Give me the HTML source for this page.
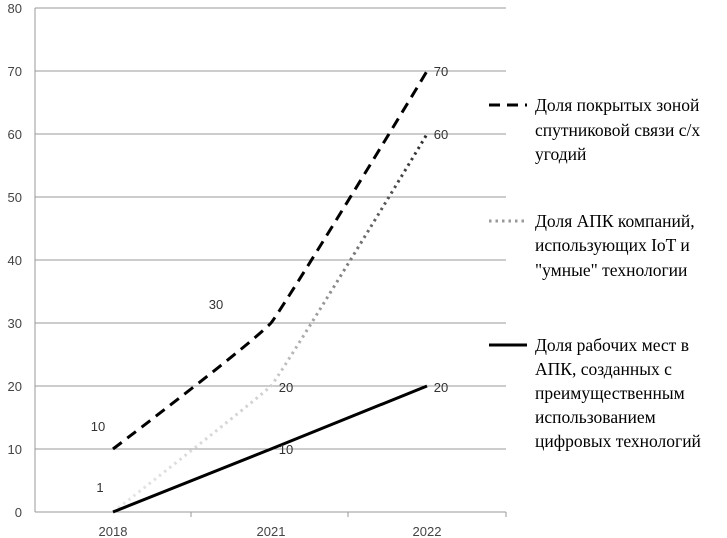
<!DOCTYPE html>
<html><head><meta charset="utf-8"><style>
html,body{margin:0;padding:0;background:#fff;}
svg{display:block;}
</style></head><body>
<svg width="727" height="538" xmlns="http://www.w3.org/2000/svg">
<defs>
<linearGradient id="g" x1="113" y1="0" x2="427" y2="0" gradientUnits="userSpaceOnUse">
<stop offset="0" stop-color="#e6e6e6"/><stop offset="0.5" stop-color="#cfcfcf"/><stop offset="1" stop-color="#2a2a2a"/>
</linearGradient>
</defs>
<g stroke="#999" stroke-width="1">
<line x1="35" y1="8" x2="506" y2="8"/>
<line x1="35" y1="71" x2="506" y2="71"/>
<line x1="35" y1="134" x2="506" y2="134"/>
<line x1="35" y1="197" x2="506" y2="197"/>
<line x1="35" y1="260" x2="506" y2="260"/>
<line x1="35" y1="323" x2="506" y2="323"/>
<line x1="35" y1="386" x2="506" y2="386"/>
<line x1="35" y1="449" x2="506" y2="449"/>
<line x1="35" y1="512" x2="506" y2="512"/>
<line x1="35" y1="8" x2="35" y2="512"/>
<line x1="191" y1="512" x2="191" y2="517"/>
<line x1="348" y1="512" x2="348" y2="517"/>
<line x1="506" y1="512" x2="506" y2="517"/>
</g>
<g font-family="Liberation Sans, sans-serif" font-size="13" fill="#444" text-anchor="end">
<text x="22" y="13">80</text><text x="22" y="76">70</text><text x="22" y="139">60</text>
<text x="22" y="202">50</text><text x="22" y="265">40</text><text x="22" y="328">30</text>
<text x="22" y="391">20</text><text x="22" y="454">10</text><text x="22" y="517">0</text>
</g>
<g font-family="Liberation Sans, sans-serif" font-size="13" fill="#444" text-anchor="middle">
<text x="113" y="536">2018</text><text x="271" y="536">2021</text><text x="427" y="536">2022</text>
</g>
<path d="M113,449 C130,436 250,345 271,323 C285,305 410,100 427,71" fill="none" stroke="#000" stroke-width="3" stroke-dasharray="11 7"/>
<path d="M113,512 C130,499 250,405 271,386 C285,368 410,163 427,134" fill="none" stroke="url(#g)" stroke-width="3" stroke-dasharray="2.5 4"/>
<path d="M113,512 L271,449 L427,386" fill="none" stroke="#000" stroke-width="3"/>
<g font-family="Liberation Sans, sans-serif" font-size="13" fill="#333" text-anchor="middle">
<text x="98" y="431">10</text><text x="100" y="492">1</text>
<text x="216" y="309">30</text><text x="286" y="392">20</text><text x="286" y="454">10</text>
<text x="441" y="76">70</text><text x="441" y="139">60</text><text x="441" y="392">20</text>
</g>
<line x1="489" y1="105" x2="527" y2="105" stroke="#000" stroke-width="3" stroke-dasharray="11 7"/>
<line x1="489" y1="221" x2="527" y2="221" stroke="#999" stroke-width="3" stroke-dasharray="2.5 4"/>
<line x1="489" y1="345" x2="527" y2="345" stroke="#000" stroke-width="3"/>
<g font-family="Liberation Serif, serif" font-size="17.5" fill="#000">
<text x="535" y="111">Доля покрытых зоной</text>
<text x="535" y="136">спутниковой связи с/х</text>
<text x="535" y="160">угодий</text>
<text x="535" y="227">Доля АПК компаний,</text>
<text x="535" y="251">использующих IoT и</text>
<text x="535" y="276">"умные" технологии</text>
<text x="535" y="351">Доля рабочих мест в</text>
<text x="535" y="375">АПК, созданных с</text>
<text x="535" y="399">преимущественным</text>
<text x="535" y="423">использованием</text>
<text x="535" y="447">цифровых технологий</text>
</g>
</svg>
</body></html>
